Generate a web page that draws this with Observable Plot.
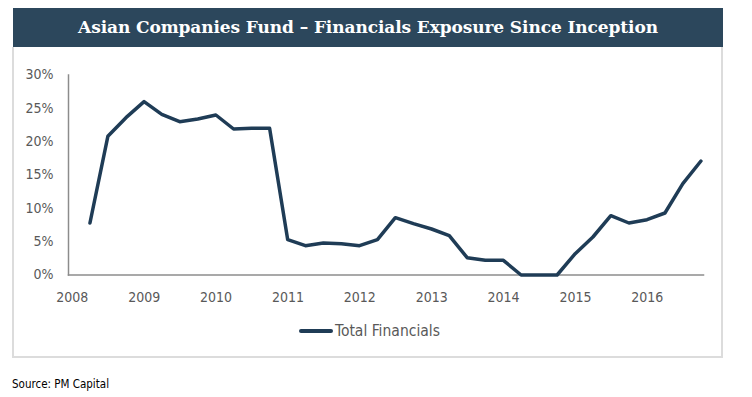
<!DOCTYPE html>
<html>
<head>
<meta charset="utf-8">
<script src="https://cdn.jsdelivr.net/npm/d3@7"></script>
<script src="https://cdn.jsdelivr.net/npm/@observablehq/plot@0.6"></script>
<style>
  html, body { margin: 0; padding: 0; background: #fff; }
  #page { position: relative; width: 752px; height: 397px; overflow: hidden; }
  #title { position: absolute; left: 13px; top: 8px; width: 710px; height: 39px; background: #2c475c; color: #fff;
    font: bold 17px "DejaVu Serif", serif; line-height: 39px; text-align: center; letter-spacing: -0.1px; }
  #box { position: absolute; left: 12px; top: 47px; width: 711px; height: 311px; box-sizing: border-box;
    border: 2px solid #dcdcdc; border-top: none; }
  #chart { position: absolute; left: 0; top: 47px; }
  #legend { position: absolute; left: 299px; top: 322px; display: flex; align-items: center;
    font: 15.5px "DejaVu Sans Condensed", "DejaVu Sans", sans-serif; color: #595959; }
  #legend .sw { width: 34px; height: 4px; background: #1f3c56; border-radius: 2px; margin-right: 2px; }
  #source { position: absolute; left: 12px; top: 377px; font: 11.5px "DejaVu Sans Condensed", "DejaVu Sans", sans-serif; color: #000; }
</style>
</head>
<body>
<div id="page">
  <div id="title">Asian Companies Fund – Financials Exposure Since Inception</div>
  <div id="box"></div>
  <div id="chart"></div>
  <div id="legend"><span class="sw"></span><span>Total Financials</span></div>
  <div id="source">Source: PM Capital</div>
</div>
<script>
const seriesName = "Total Financials";
const dates = [
  "2008-03-31","2008-06-30","2008-09-30","2008-12-31",
  "2009-03-31","2009-06-30","2009-09-30","2009-12-31",
  "2010-03-31","2010-06-30","2010-09-30","2010-12-31",
  "2011-03-31","2011-06-30","2011-09-30","2011-12-31",
  "2012-03-31","2012-06-30","2012-09-30","2012-12-31",
  "2013-03-31","2013-06-30","2013-09-30","2013-12-31",
  "2014-03-31","2014-06-30","2014-09-30","2014-12-31",
  "2015-03-31","2015-06-30","2015-09-30","2015-12-31",
  "2016-03-31","2016-06-30","2016-09-30"
];
const values = [
  7.8, 20.8, 23.6, 26.0,
  24.1, 23.0, 23.4, 24.0,
  21.9, 22.0, 22.0, 5.3,
  4.4, 4.8, 4.7, 4.4,
  5.3, 8.6, 7.7, 6.9,
  5.9, 2.6, 2.2, 2.2,
  0.0, 0.0, 0.0, 3.2,
  5.7, 8.9, 7.8, 8.3,
  9.3, 13.7, 17.1
];
const yearTicks = ["2008","2009","2010","2011","2012","2013","2014","2015","2016"];
const yTicks = [0, 5, 10, 15, 20, 25, 30];
const xDomain = ["2007-12-13", "2016-10-13"];

const data = dates.map((d, i) => ({ date: new Date(d), value: values[i], series: seriesName }));

const chart = Plot.plot({
  width: 752,
  height: 275,
  marginLeft: 68,
  marginRight: 49,
  marginTop: 27.5,
  marginBottom: 47.5,
  style: { background: "none", fontFamily: '"DejaVu Sans Condensed", "DejaVu Sans", sans-serif', fontSize: "14px", color: "#595959" },
  x: { type: "utc", domain: xDomain.map(d => new Date(d)) },
  y: { domain: [0, 30] },
  marks: [
    Plot.axisY({ ticks: yTicks, tickFormat: d => d + "%", tickSize: 0, tickPadding: 15, label: null }),
    Plot.axisX({ ticks: yearTicks.map(y => new Date(y + "-01-01")), tickFormat: d => d3.utcFormat("%Y")(d), tickSize: 0, tickPadding: 17, label: null }),
    Plot.frame({ anchor: "left", stroke: "#8c8c8c", strokeWidth: 1.5 }),
    Plot.frame({ anchor: "bottom", stroke: "#8c8c8c", strokeWidth: 1.5 }),
    Plot.line(data, { x: "date", y: "value", stroke: "#1f3c56", strokeWidth: 3.5, strokeLinejoin: "round", strokeLinecap: "round" })
  ]
});
document.getElementById("chart").appendChild(chart);
</script>
</body>
</html>
